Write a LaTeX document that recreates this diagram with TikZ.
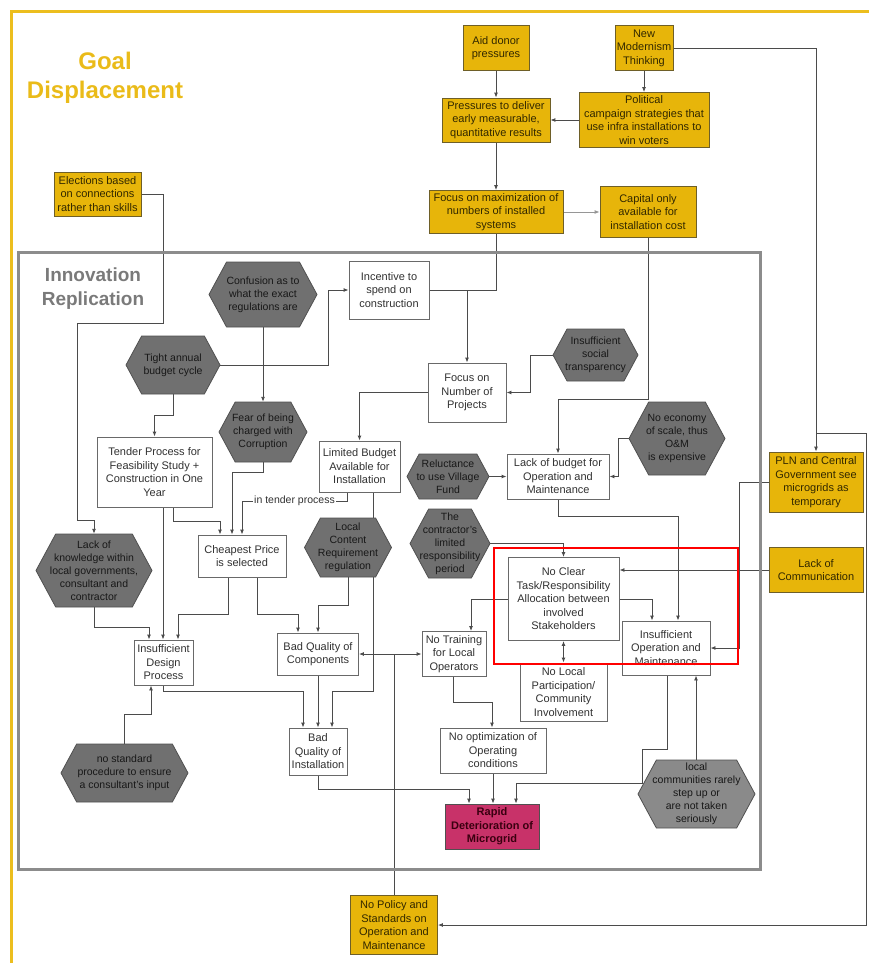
\documentclass[tikz,border=0pt]{standalone}
\usepackage{fontspec}
\setmainfont{Liberation Sans}
\usetikzlibrary{arrows.meta,backgrounds}

\definecolor{goalyellow}{RGB}{234,187,25}
\definecolor{frameyellow}{RGB}{236,190,30}
\definecolor{framegray}{RGB}{140,140,140}
\definecolor{titlegray}{RGB}{122,122,122}
\definecolor{yfill}{RGB}{231,181,10}
\definecolor{yline}{RGB}{110,95,40}
\definecolor{ytext}{RGB}{50,40,0}
\definecolor{wline}{RGB}{105,105,105}
\definecolor{wtext}{RGB}{50,50,50}
\definecolor{hexA}{RGB}{112,112,112}
\definecolor{hexB}{RGB}{138,138,138}
\definecolor{hexline}{RGB}{80,80,80}
\definecolor{htext}{RGB}{24,24,24}
\definecolor{linegray}{RGB}{75,75,75}
\definecolor{lightgray}{RGB}{150,150,150}
\definecolor{rapidfill}{RGB}{200,50,105}
\definecolor{rapidtext}{RGB}{58,0,16}

\tikzset{
  boxfont/.style={font=\fontsize{11}{13.5}\selectfont},
  ybox/.style={boxfont, draw=yline, fill=yfill, text=ytext, line width=0.8pt, align=center, inner sep=0pt},
  wbox/.style={boxfont, draw=wline, fill=white, text=wtext, line width=0.9pt, align=center, inner sep=0pt},
  rbox/.style={font=\fontsize{11}{13.5}\selectfont\bfseries, draw=hexline, fill=rapidfill, text=rapidtext, line width=0.8pt, align=center, inner sep=0pt},
  hexlabel/.style={font=\fontsize{10.5}{13}\selectfont, text=htext, align=center, inner sep=0pt},
  conn/.style={draw=linegray, line width=0.9pt},
  arr/.style={conn, -{Latex[length=5pt,width=4pt]}},
  darr/.style={conn, {Latex[length=5pt,width=4pt]}-{Latex[length=5pt,width=4pt]}},
  tlab/.style={font=\fontsize{10.5}{12}\selectfont, text=wtext, fill=white, inner sep=1pt},
}

% box: style, name, x, y, width, height, text
\newcommand{\bx}[7]{\node[#1, minimum width=#5pt, minimum height=#6pt] (#2) at (#3,#4) {#7};}
% hexagon: [fill], name, x, y, width, height, text
\newcommand{\hx}[7][hexA]{%
  \pgfmathsetmacro\hxi{0.27*#6}%
  \filldraw[fill=#1, draw=hexline, line width=0.8pt, line join=round]
    ({#3-#5/2},{#4}) -- ({#3-#5/2+\hxi},{#4-#6/2}) -- ({#3+#5/2-\hxi},{#4-#6/2})
    -- ({#3+#5/2},{#4}) -- ({#3+#5/2-\hxi},{#4+#6/2}) -- ({#3-#5/2+\hxi},{#4+#6/2}) -- cycle;
  \node[hexlabel, minimum width=#5pt, minimum height=#6pt] (#2) at (#3,#4) {#7};}

\begin{document}
\begin{tikzpicture}[x=1pt,y=-1pt]
\path[use as bounding box] (0,0) rectangle (869,963);

% frames
\begin{scope}
  \clip (0,0) rectangle (869,963);
  \draw[frameyellow, line width=3pt] (11,1000) -- (11,12) -- (900,12);
\end{scope}
\draw[framegray, line width=3pt] (18,252) rectangle (760,869);

% section titles
\node[font=\fontsize{24}{29}\selectfont\bfseries, text=goalyellow, align=center] (goal) at (105,78) {Goal\\Displacement};
\node[font=\fontsize{19}{24}\selectfont\bfseries, text=titlegray, align=center] (innov) at (93,289) {Innovation\\Replication};

% yellow boxes
\bx{ybox}{Aid}{496}{48}{66}{45}{Aid donor\\pressures}
\bx{ybox}{NewMod}{644}{48}{58}{45}{New\\Modernism\\Thinking}
\bx{ybox}{Press}{496}{120}{108}{44}{Pressures to deliver\\early measurable,\\quantitative results}
\bx{ybox}{Polit}{644}{120}{130}{55}{Political\\campaign strategies that\\use infra installations to\\win voters}
\bx{ybox}{FocusMax}{496}{212}{134}{43}{Focus on maximization of\\numbers of installed\\systems}
\bx{ybox}{Capital}{648}{212}{96}{51}{Capital only\\available for\\installation cost}
\bx{ybox}{Elect}{97.5}{194}{87}{44}{Elections based\\on connections\\rather than skills}
\bx{ybox}{PLN}{816}{482}{94}{60}{PLN and Central\\Government see\\microgrids as\\temporary}
\bx{ybox}{LackComm}{816}{570}{94}{45}{Lack of\\Communication}
\bx{ybox}{NoPolicy}{394}{925}{87}{59}{No Policy and\\Standards on\\Operation and\\Maintenance}

% white boxes
\bx{wbox}{Incent}{389}{290}{80}{58}{Incentive to\\spend on\\construction}
\bx{wbox}{FocusNum}{467}{392.5}{78}{59}{Focus on\\Number of\\Projects}
\bx{wbox}{Tender}{154.5}{472}{115}{70}{Tender Process for\\Feasibility Study +\\Construction in One\\Year}
\bx{wbox}{LimB}{359.5}{466.5}{81}{51}{Limited Budget\\Available for\\Installation}
\bx{wbox}{LackB}{558}{476.5}{102}{45}{Lack of budget for\\Operation and\\Maintenance}
\bx{wbox}{Cheap}{242}{556}{88}{42}{Cheapest Price\\is selected}
\bx{wbox}{Design}{163.5}{662.5}{59}{45}{Insufficient\\Design\\Process}
\bx{wbox}{Comp}{318}{654}{81}{42}{Bad Quality of\\Components}
\bx{wbox}{Train}{454}{654}{64}{45}{No Training\\for Local\\Operators}
\bx{wbox}{NoClear}{563.5}{599}{111}{83}{No Clear\\Task/Responsibility\\Allocation between\\involved\\Stakeholders}
\bx{wbox}{OM}{666}{648}{88}{54}{Insufficient\\Operation and\\Maintenance}
\bx{wbox}{NoLocal}{563.5}{692}{87}{58}{No Local\\Participation/\\Community\\Involvement}
\bx{wbox}{NoOpt}{493}{750.5}{106}{45}{No optimization of\\Operating\\conditions}
\bx{wbox}{Install}{318}{751.5}{58}{47}{Bad\\Quality of\\Installation}
\bx{rbox}{Rapid}{492}{826.5}{94}{45}{Rapid\\Deterioration of\\Microgrid}

% hexagons
\hx{Conf}{263}{294.5}{108}{65}{Confusion as to\\what the exact\\regulations are}
\hx{Tight}{173}{365}{94}{58}{Tight annual\\budget cycle}
\hx{Fear}{263}{432}{88}{60}{Fear of being\\charged with\\Corruption}
\hx{Social}{595.5}{355}{85}{52}{Insufficient\\social\\transparency}
\hx{NoEcon}{677}{438.5}{96}{73}{No economy\\of scale, thus\\O\&M\\is expensive}
\hx{Reluc}{448}{476.5}{82}{45}{Reluctance\\to use Village\\Fund}
\hx{LocalC}{348}{547.5}{87}{59}{Local\\Content\\Requirement\\regulation}
\hx{Contr}{450}{543.5}{80}{69}{The\\contractor's\\limited\\responsibility\\period}
\hx{LackK}{94}{570.5}{116}{73}{Lack of\\knowledge within\\local governments,\\consultant and\\contractor}
\hx{NoStd}{124.5}{773}{127}{58}{no standard\\procedure to ensure\\a consultant's input}
\hx[hexB]{LocalCom}{696.5}{794}{117}{68}{local\\communities rarely\\step up or\\are not taken\\seriously}

% connectors
\begin{scope}[on background layer]
  % goal displacement chain
  \draw[arr] (Aid.south) -- (Press.north);
  \draw[arr] (NewMod.south) -- (Polit.north);
  \draw[arr] (Polit.west) -- (Press.east);
  \draw[arr] (Press.south) -- (FocusMax.north);
  \draw[arr, draw=lightgray] (FocusMax.east) -- (Capital.west);
  \draw[arr] (NewMod.east) -| (PLN.north);
  \draw[arr] (816,433) -- (866,433) -- (866,925) -- (NoPolicy.east);
  \draw[conn] (FocusMax.south) |- (467,290);
  \draw[arr] (Incent.east) -| (FocusNum.north);
  \draw[arr] (Capital.south) -- (648,399) -| (LackB.north);
  \draw[arr] (Elect.east) -| (163,323) -- (77,323) -- (77,520) -| (LackK.north);

  % innovation replication
  \draw[arr] (Conf.south) -- (Fear.north);
  \draw[arr] (Tight.east) -- (328,365) |- (Incent.west);
  \draw[arr] (Tight.south) -- (173,415) -| (Tender.north);
  \draw[arr] (Fear.south) -- (263,472) -| (Cheap.north -| 232,0);
  \draw[arr] (LimB.south -| 347,0) -- (347,501) -- node[tlab] (tender) {in tender process} (242,501) -- (Cheap.north -| 242,0);
  \draw[arr] (Tender.south -| 173,0) -- (173,521) -| (Cheap.north -| 220,0);
  \draw[arr] (Tender.south -| 163,0) -- (Design.north -| 163,0);
  \draw[arr] (LackK.south) -- (94,627) -| (Design.north -| 149,0);
  \draw[arr] (Cheap.south -| 228,0) -- (228,614) -| (Design.north -| 178,0);
  \draw[arr] (Cheap.south -| 257,0) -- (257,614) -| (Comp.north -| 298,0);
  \draw[arr] (LocalC.south) -- (348,605) -| (Comp.north -| 318,0);
  \draw[arr] (LimB.south -| 373,0) -- (373,691) -| (Install.north -| 332,0);
  \draw[arr] (Design.south -| 163,0) -- (163,691) -| (Install.north -| 303,0);
  \draw[arr] (Comp.south) -- (Install.north);
  \draw[conn] (NoPolicy.north) -- (394,654);
  \draw[arr] (394,654) -- (Comp.east);
  \draw[arr] (394,654) -- (Train.west);
  \draw[arr] (Train.south -| 453,0) -- (453,702) -| (NoOpt.north -| 492,0);
  \draw[arr] (NoOpt.south) -- (Rapid.north -| 493,0);
  \draw[arr] (Install.south) -- (318,789) -| (Rapid.north -| 469,0);
  \draw[arr] (OM.south -| 667,0) -- (667,749) -- (642,749) -- (642,783) -| (Rapid.north -| 516,0);
  \draw[arr] (LocalCom.north -| 696,0) -- (OM.south -| 696,0);
  \draw[arr] (LackB.south) -- (558,516) -| (OM.north -| 678,0);
  \draw[arr] (NoClear.east) -| (OM.north -| 652,0);
  \draw[arr] (LackComm.west) -- (NoClear.east |- 0,570);
  \draw[arr] (PLN.west) -- (739,482) |- (OM.east);
  \draw[arr] (Contr.east) -| (NoClear.north);
  \draw[arr] (NoClear.west) -| (Train.north -| 471,0);
  \draw[darr] (NoClear.south) -- (NoLocal.north);
  \draw[arr] (Reluc.east) -- (LackB.west);
  \draw[arr] (NoEcon.west) -- (618,438.5) |- (LackB.east);
  \draw[arr] (Social.west) -- (530,355) |- (FocusNum.east);
  \draw[arr] (FocusNum.west) -| (LimB.north);
  \draw[arr] (NoStd.north -| 124,0) -- (124,714) -| (Design.south -| 151,0);
\end{scope}

% highlighted group
\draw[red, line width=2.5pt] (494,548) rectangle (738,664);
\end{tikzpicture}
\end{document}
